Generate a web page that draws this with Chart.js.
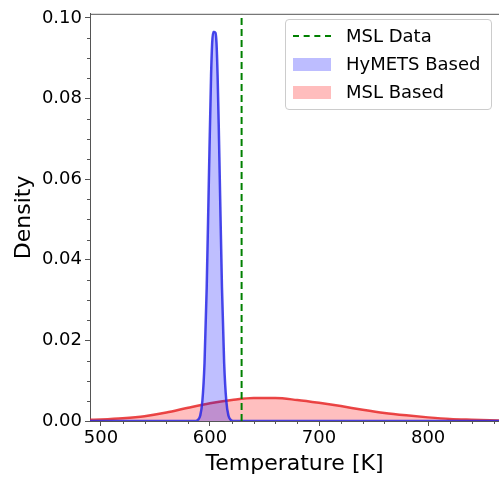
<!DOCTYPE html>
<html>
<head>
<meta charset="utf-8">
<script src="https://cdn.jsdelivr.net/npm/chart.js@4/dist/chart.umd.min.js"></script>
<style>
  html, body { margin: 0; padding: 0; background: #fff; }
  #wrap { position: relative; width: 499px; height: 479px; overflow: hidden; }
  #legend {
    position: absolute; left: 285px; top: 19px; width: 205px; height: 89px;
    border: 1px solid #ccc; border-radius: 4px; background: rgba(255,255,255,0.85);
    font-family: "DejaVu Sans", sans-serif; font-size: 18px; color: #000;
  }
  .item { position: absolute; left: 7px; height: 22px; line-height: 22px; }
  .item span.lbl { position: absolute; left: 53px; white-space: nowrap; }
  .sw { position: absolute; left: 0; top: 5px; width: 38px; height: 13px; }
</style>
</head>
<body>
<div id="wrap">
  <canvas id="chart" width="499" height="479"></canvas>
  <div id="legend">
    <div class="item" style="top:5px"><div class="sw" style="top:10px;height:0;border-top:2px dashed #008000"></div><span class="lbl">MSL Data</span></div>
    <div class="item" style="top:33px"><div class="sw" style="background:rgba(0,0,255,0.26)"></div><span class="lbl">HyMETS Based</span></div>
    <div class="item" style="top:61px"><div class="sw" style="background:rgba(255,0,0,0.26)"></div><span class="lbl">MSL Based</span></div>
  </div>
</div>
<script>
// values
const xTicks = [500, 600, 700, 800];
const yTicks = [0, 0.02, 0.04, 0.06, 0.08, 0.10];

const mslData = 629;

const hymetsTemp = [490, 587, 589, 591, 593, 595, 597, 599, 601, 602, 603, 604, 605, 606, 607, 608, 609, 611, 613, 615, 617, 619, 621, 623, 865];
const hymetsDensity = [0, 0, 0.0003, 0.0013, 0.0049, 0.0144, 0.0331, 0.0600, 0.0857, 0.0937, 0.0965, 0.0965, 0.0963, 0.0937, 0.0857, 0.0738, 0.0600, 0.0331, 0.0144, 0.0049, 0.0013, 0.0003, 0, 0, 0];

const mslTemp = [490, 500, 520, 540, 560, 580, 600, 620, 640, 660, 680, 700, 720, 740, 760, 780, 800, 820, 840, 865];
const mslDensity = [0.0003, 0.0004, 0.0007, 0.0012, 0.0021, 0.0033, 0.0044, 0.0052, 0.0057, 0.0057, 0.0052, 0.0045, 0.0037, 0.0028, 0.0020, 0.0014, 0.0009, 0.0005, 0.0003, 0.0001];

const xMin = 490, xMax = 865, yMin = 0, yMax = 0.101;

function toPoints(xs, ys) {
    return xs.map((x, i) => ({ x: x, y: ys[i] }));
}

//draws minor ticks and the top spine
const decorations = {
    id: 'decorations',
    afterDraw(chart) {
        const ctx = chart.ctx;
        const xs = chart.scales.x, ys = chart.scales.y;
        const a = chart.chartArea;
        ctx.save();
        ctx.strokeStyle = '#555';
        ctx.lineWidth = 1;
        ctx.beginPath();
        for (let v = 500; v <= xMax; v += 20) {
            if (v % 100 === 0) continue;
            const px = Math.round(xs.getPixelForValue(v)) + 0.5;
            ctx.moveTo(px, a.bottom);
            ctx.lineTo(px, a.bottom + 3);
        }
        for (let k = 1; k <= 20; k++) {
            if (k % 4 === 0) continue;
            const py = Math.round(ys.getPixelForValue(k * 0.005)) + 0.5;
            ctx.moveTo(a.left - 3, py);
            ctx.lineTo(a.left, py);
        }
        ctx.moveTo(a.left, a.top + 0.5);
        ctx.lineTo(a.right, a.top + 0.5);
        ctx.stroke();
        ctx.restore();
    }
};

const ctx = document.getElementById('chart').getContext('2d');
new Chart(ctx, {
    type: 'line',
    data: {
        datasets: [
            {
                label: 'MSL Based',
                data: toPoints(mslTemp, mslDensity),
                borderColor: 'rgba(230,40,40,0.85)',
                backgroundColor: 'rgba(255,0,0,0.25)',
                borderWidth: 2.5,
                fill: 'origin',
                pointRadius: 0,
                cubicInterpolationMode: 'monotone',
                order: 2
            },
            {
                label: 'HyMETS Based',
                data: toPoints(hymetsTemp, hymetsDensity),
                borderColor: 'rgba(40,40,230,0.85)',
                backgroundColor: 'rgba(0,0,255,0.25)',
                borderWidth: 2.5,
                fill: 'origin',
                pointRadius: 0,
                cubicInterpolationMode: 'monotone',
                order: 1
            },
            {
                label: 'MSL Data',
                data: [{ x: mslData, y: yMin }, { x: mslData, y: yMax }],
                borderColor: '#008000',
                borderWidth: 2,
                borderDash: [7, 4],
                fill: false,
                pointRadius: 0,
                order: 0
            }
        ]
    },
    options: {
        responsive: false,
        animation: false,
        layout: { padding: { top: 11, right: 0, left: 0, bottom: 0 } },
        plugins: {
            legend: { display: false },
            tooltip: { enabled: false }
        },
        scales: {
            x: {
                type: 'linear',
                min: xMin,
                max: xMax,
                afterBuildTicks: s => { s.ticks = xTicks.map(v => ({ value: v })); },
                afterFit: s => { s.height = 58; },
                grid: { drawOnChartArea: false, tickLength: 5, color: '#555' },
                border: { color: '#555', width: 1 },
                ticks: {
                    color: '#000',
                    padding: 2,
                    font: { family: 'DejaVu Sans', size: 18 }
                },
                title: {
                    display: true,
                    text: 'Temperature [K]',
                    color: '#000',
                    padding: { top: 0, bottom: 2 },
                    font: { family: 'DejaVu Sans', size: 22 }
                }
            },
            y: {
                min: yMin,
                max: yMax,
                afterBuildTicks: s => { s.ticks = yTicks.map(v => ({ value: v })); },
                afterFit: s => { s.width = 90; },
                grid: { drawOnChartArea: false, tickLength: 5, color: '#555' },
                border: { color: '#555', width: 1 },
                ticks: {
                    color: '#000',
                    padding: 3,
                    font: { family: 'DejaVu Sans', size: 18 },
                    callback: v => v.toFixed(2)
                },
                title: {
                    display: true,
                    text: 'Density',
                    color: '#000',
                    padding: { top: 11, bottom: 0 },
                    font: { family: 'DejaVu Sans', size: 22 }
                }
            }
        }
    },
    plugins: [decorations]
});
</script>
</body>
</html>
